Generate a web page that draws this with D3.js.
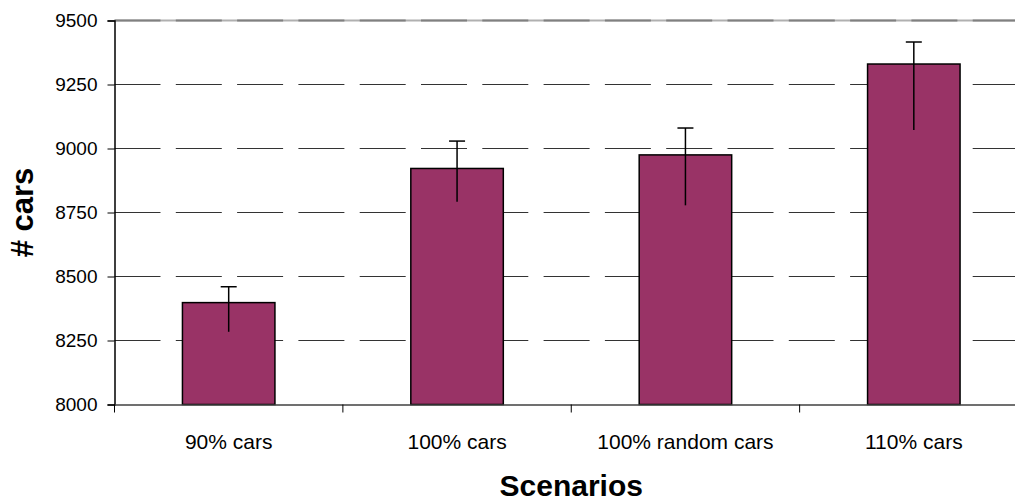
<!DOCTYPE html>
<html><head><meta charset="utf-8">
<script src="https://cdn.jsdelivr.net/npm/d3@7"></script>
<style>body{margin:0;background:#fff}svg{display:block}</style>
</head><body>
<script>
const categories = ["90% cars", "100% cars", "100% random cars", "110% cars"];
const values = [8398, 8922, 8975, 9330];
const errPlus = [62, 107, 105, 86];
const errMinus = [114, 130, 197, 258];
const yTicks = [8000, 8250, 8500, 8750, 9000, 9250, 9500];

(function () {
const W = 1015, H = 503;
const pl = 114.5, pr = 1028, pt = 20.5, pb = 404.5;
const svg = d3.select("body").append("svg").attr("width", W).attr("height", H);
const font = "Liberation Sans, Arial, sans-serif";

const x = d3.scaleBand().domain(categories).range([pl, pr]).paddingInner(0.595).paddingOuter(0.2975);
const y = d3.scaleLinear().domain([8000, 9500]).range([pb, pt]);

// gridlines
const grid = svg.append("g");
yTicks.filter(t => t > 8000 && t < 9500).forEach(t => {
  grid.append("line").attr("x1", pl).attr("x2", pr).attr("y1", y(t)).attr("y2", y(t))
    .attr("stroke", "#333").attr("stroke-width", 1).attr("stroke-dasharray", "46,15.3");
});
grid.append("line").attr("x1", pl).attr("x2", pr).attr("y1", y(9500)).attr("y2", y(9500))
  .attr("stroke", "#b0b0b0").attr("stroke-width", 2);
grid.append("line").attr("x1", pl).attr("x2", pr).attr("y1", y(9500)).attr("y2", y(9500))
  .attr("stroke", "#808080").attr("stroke-width", 2).attr("stroke-dasharray", "46,15.3");

// bars
svg.append("g").selectAll("rect").data(categories).join("rect")
  .attr("x", d => x(d)).attr("width", x.bandwidth())
  .attr("y", (d, i) => y(values[i])).attr("height", (d, i) => y(8000) - y(values[i]))
  .attr("fill", "#993366").attr("stroke", "#000").attr("stroke-width", 1.5);

// error bars
const eb = svg.append("g").attr("stroke", "#000").attr("stroke-width", 1.5);
categories.forEach((c, i) => {
  const cx = x(c) + x.bandwidth() / 2;
  eb.append("line").attr("x1", cx).attr("x2", cx).attr("y1", y(values[i] + errPlus[i])).attr("y2", y(values[i] - errMinus[i]));
  eb.append("line").attr("x1", cx - 8).attr("x2", cx + 8).attr("y1", y(values[i] + errPlus[i])).attr("y2", y(values[i] + errPlus[i]));
});

// y axis
const yAxis = svg.append("g").attr("transform", `translate(${pl},0)`)
  .call(d3.axisLeft(y).tickValues(yTicks).tickSize(7).tickPadding(10).tickFormat(d3.format("d")));
yAxis.select(".domain").attr("stroke", "#000").attr("stroke-width", 1.5);
yAxis.selectAll(".tick line").attr("stroke", "#000").attr("stroke-width", 1);
yAxis.selectAll("text").attr("font-family", font).attr("font-size", 19).attr("fill", "#000");

// x axis
const xAxis = svg.append("g").attr("transform", `translate(0,${pb})`)
  .call(d3.axisBottom(x).tickSize(0).tickPadding(30));
xAxis.select(".domain").attr("stroke", "#404040").attr("stroke-width", 1.5);
xAxis.selectAll("text").attr("font-family", font).attr("font-size", 21).attr("fill", "#000");
const step = x.step();
const bounds = d3.range(categories.length + 1).map(i => pl + i * step);
svg.append("g").selectAll("line").data(bounds).join("line")
  .attr("x1", d => d).attr("x2", d => d).attr("y1", pb).attr("y2", pb + 8)
  .attr("stroke", "#000").attr("stroke-width", 1);

// titles
svg.append("text").attr("x", (pl + pr) / 2).attr("y", 496).attr("text-anchor", "middle")
  .attr("font-family", font).attr("font-weight", "bold").attr("font-size", 30).text("Scenarios");
svg.append("text").attr("transform", `translate(33,${(pt + pb) / 2}) rotate(-90)`).attr("text-anchor", "middle")
  .attr("font-family", font).attr("font-weight", "bold").attr("font-size", 31).text("# cars");
})();
</script>
</body></html>
